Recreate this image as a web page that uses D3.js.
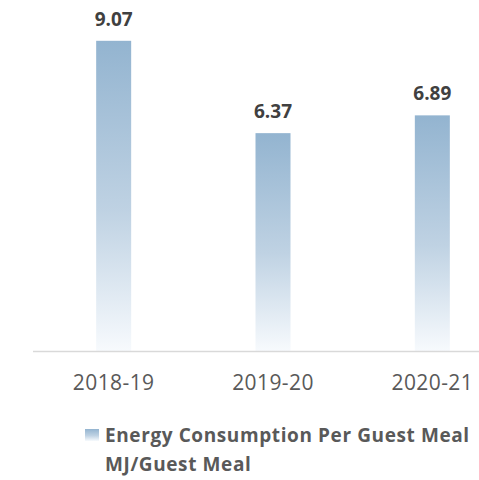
<!DOCTYPE html>
<html>
<head>
<meta charset="utf-8">
<script src="https://cdn.jsdelivr.net/npm/d3@7"></script>
<style>
  body { margin: 0; background: #fff; }
  text { font-family: "Open Sans", "Noto Sans", sans-serif; }
</style>
</head>
<body>
<div id="chart"></div>
<script>
// chart data
const years = ["2018-19", "2019-20", "2020-21"];
const energyPerMeal = [9.07, 6.37, 6.89];
const legendLines = ["Energy Consumption Per Guest Meal", "MJ/Guest Meal"];

const W = 479, H = 480;
const baseY = 351;

const svg = d3.select("#chart").append("svg")
    .attr("width", W)
    .attr("height", H);

// vertical gradient, blue at top fading to white
const defs = svg.append("defs");
const grad = defs.append("linearGradient")
    .attr("id", "barGrad")
    .attr("x1", 0).attr("y1", 0)
    .attr("x2", 0).attr("y2", 1);
grad.append("stop").attr("offset", "0%").attr("stop-color", "#93b4d0");
grad.append("stop").attr("offset", "55%").attr("stop-color", "#bfd2e3");
grad.append("stop").attr("offset", "100%").attr("stop-color", "#f7fafd");

const x = d3.scaleBand()
    .domain(years)
    .range([34, 512])
    .paddingInner(0.78)
    .paddingOuter(0.39);

const y = d3.scaleLinear()
    .domain([0, 10])
    .range([baseY, baseY - 342]);

// bars
svg.selectAll(".bar")
    .data(energyPerMeal)
    .enter().append("rect")
    .attr("class", "bar")
    .attr("x", (d, i) => x(years[i]) + x.bandwidth() / 2 - 17.5)
    .attr("y", d => y(d))
    .attr("width", 35)
    .attr("height", d => baseY - y(d))
    .attr("fill", "url(#barGrad)");

// value labels
svg.selectAll(".bar-value")
    .data(energyPerMeal)
    .enter().append("text")
    .attr("class", "bar-value")
    .attr("x", (d, i) => x(years[i]) + x.bandwidth() / 2)
    .attr("y", d => y(d) - 15)
    .attr("text-anchor", "middle")
    .style("font-size", "19px")
    .style("font-weight", "bold")
    .attr("fill", "#404040")
    .text(d => d.toFixed(2));

// x axis
const xAxis = d3.axisBottom(x).tickSize(0);
const gx = svg.append("g")
    .attr("transform", "translate(0," + baseY + ")")
    .call(xAxis);
gx.select(".domain").remove();
gx.selectAll("text")
    .attr("y", 39)
    .attr("dy", null)
    .style("font-size", "21px")
    .style("letter-spacing", "0.4px")
    .attr("fill", "#595959");

svg.append("line")
    .attr("x1", 33).attr("x2", W)
    .attr("y1", baseY + 0.5).attr("y2", baseY + 0.5)
    .attr("stroke", "#d9d9d9")
    .attr("stroke-width", 1.5);

// legend
svg.append("rect")
    .attr("x", 85).attr("y", 429)
    .attr("width", 14).attr("height", 12)
    .attr("fill", "url(#barGrad)");

svg.selectAll(".legend-text")
    .data(legendLines)
    .enter().append("text")
    .attr("class", "legend-text")
    .attr("x", 105)
    .attr("y", (d, i) => 442 + i * 29)
    .style("font-size", "19px")
    .style("font-weight", "bold")
    .style("letter-spacing", "0.6px")
    .attr("fill", "#595959")
    .text(d => d);
</script>
</body>
</html>
